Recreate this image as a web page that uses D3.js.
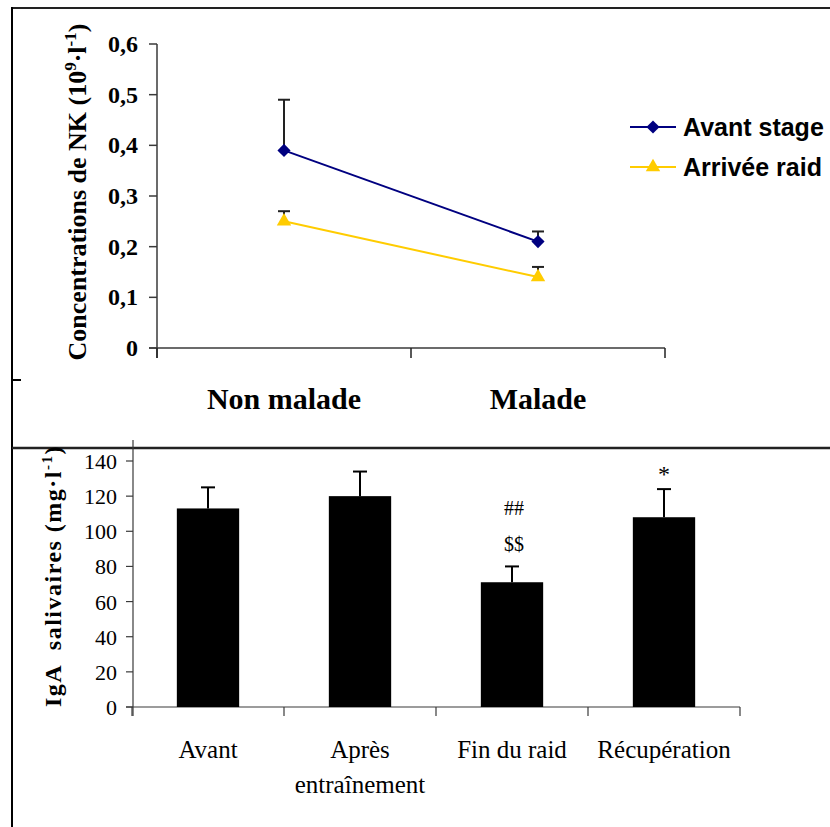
<!DOCTYPE html>
<html>
<head>
<meta charset="utf-8">
<script src="https://cdn.jsdelivr.net/npm/d3@7"></script>
<style>
  body { margin: 0; background: #fff; }
  svg { display: block; }
</style>
</head>
<body>
<div class="graph"></div>
<script>
// données NK (haut)
const nkGroups = ['Non malade', 'Malade']
const nkAvant = [0.39, 0.21]
const nkAvantErr = [0.10, 0.02]
const nkArrivee = [0.25, 0.14]
const nkArriveeErr = [0.02, 0.02]
const nkTicks = ['0', '0,1', '0,2', '0,3', '0,4', '0,5', '0,6']

// données IgA (bas)
const igaGroups = ['Avant', 'Après\nentraînement', 'Fin du raid', 'Récupération']
const igaValues = [113, 120, 71, 108]
const igaErr = [12, 14, 9, 16]
const igaMarks = [[], [], ['##', '$$'], ['*']]
const igaTicks = [0, 20, 40, 60, 80, 100, 120, 140]

const W = 830, H = 827
const serif = '"Liberation Serif", "Times New Roman", serif'
const sans = '"Liberation Sans", Arial, sans-serif'
const axisCol = '#3a3a3a'

const svg = d3.select('.graph').append('svg')
  .attr('width', W).attr('height', H)

// cadres
svg.append('line').attr('x1', 12).attr('x2', W).attr('y1', 8).attr('y2', 8)
  .attr('stroke', '#222').attr('stroke-width', 2)
svg.append('line').attr('x1', 12).attr('x2', 12).attr('y1', 7).attr('y2', H)
  .attr('stroke', '#000').attr('stroke-width', 2)
svg.append('line').attr('x1', 12).attr('x2', W).attr('y1', 448).attr('y2', 448)
  .attr('stroke', '#222').attr('stroke-width', 2.5)
svg.append('line').attr('x1', 12).attr('x2', 21).attr('y1', 380).attr('y2', 380)
  .attr('stroke', '#000').attr('stroke-width', 2)

/* ---------- graphique du haut ---------- */
const y1 = d3.scaleLinear().domain([0, 0.6]).range([348, 44])
const x1 = d3.scaleBand().domain(nkGroups).range([157, 665])

const topG = svg.append('g')

// axe y
topG.append('line').attr('x1', 157).attr('x2', 157).attr('y1', y1(0.6)).attr('y2', 358)
  .attr('stroke', axisCol).attr('stroke-width', 1.5)
topG.selectAll('.ytick').data(nkTicks).enter().append('line')
  .attr('x1', 149).attr('x2', 157)
  .attr('y1', (d, i) => y1(i / 10)).attr('y2', (d, i) => y1(i / 10))
  .attr('stroke', axisCol).attr('stroke-width', 1.5)
topG.selectAll('.ylab').data(nkTicks).enter().append('text')
  .attr('x', 138).attr('y', (d, i) => y1(i / 10) + 8)
  .attr('text-anchor', 'end')
  .style('font', `bold 24px ${serif}`)
  .text(d => d)

// axe x
topG.append('line').attr('x1', 149).attr('x2', 665).attr('y1', y1(0)).attr('y2', y1(0))
  .attr('stroke', axisCol).attr('stroke-width', 1.5)
const bounds1 = [x1.range()[0]].concat(nkGroups.map(g => x1(g) + x1.bandwidth()))
topG.selectAll('.xtick').data(bounds1).enter().append('line')
  .attr('x1', d => d).attr('x2', d => d).attr('y1', y1(0)).attr('y2', 358)
  .attr('stroke', '#222').attr('stroke-width', 1.5)
topG.selectAll('.xlab').data(nkGroups).enter().append('text')
  .attr('x', d => x1(d) + x1.bandwidth() / 2).attr('y', 409)
  .attr('text-anchor', 'middle')
  .style('font', `bold 30px ${serif}`)
  .text(d => d)

// titre axe y
const yt = topG.append('text')
  .attr('transform', 'translate(86,192) rotate(-90)')
  .attr('text-anchor', 'middle')
  .style('font', `bold 26px ${serif}`)
yt.append('tspan').text('Concentrations de NK (10')
yt.append('tspan').attr('dy', -10).style('font-size', '17px').text('9')
yt.append('tspan').attr('dy', 10).text('·l')
yt.append('tspan').attr('dy', -10).style('font-size', '17px').text('-1')
yt.append('tspan').attr('dy', 10).text(')')

const cx1 = d => x1(d) + x1.bandwidth() / 2
const series = [
  { vals: nkAvant, err: nkAvantErr, color: '#000080', sym: d3.symbolDiamond2, size: 110 },
  { vals: nkArrivee, err: nkArriveeErr, color: '#FFCC00', sym: d3.symbolTriangle, size: 90 },
]

series.forEach(s => {
  // barres d'erreur
  nkGroups.forEach((g, i) => {
    const x = cx1(g), yv = y1(s.vals[i]), ye = y1(s.vals[i] + s.err[i])
    topG.append('line').attr('x1', x).attr('x2', x).attr('y1', yv).attr('y2', ye)
      .attr('stroke', '#222').attr('stroke-width', 2)
    topG.append('line').attr('x1', x - 6).attr('x2', x + 6).attr('y1', ye).attr('y2', ye)
      .attr('stroke', '#222').attr('stroke-width', 2)
  })
  topG.append('path')
    .datum(s.vals)
    .attr('d', d3.line().x((d, i) => cx1(nkGroups[i])).y(d => y1(d)))
    .attr('fill', 'none').attr('stroke', s.color).attr('stroke-width', 2)
  topG.selectAll(null).data(s.vals).enter().append('path')
    .attr('transform', (d, i) => `translate(${cx1(nkGroups[i])},${y1(d)})`)
    .attr('d', d3.symbol().type(s.sym).size(s.size))
    .attr('fill', s.color)
})

// légende
const legNames = ['Avant stage', 'Arrivée raid']
legNames.forEach((name, i) => {
  const s = series[i]
  const ly = 127 + i * 40
  const lg = topG.append('g')
  lg.append('line').attr('x1', 630).attr('x2', 676).attr('y1', ly).attr('y2', ly)
    .attr('stroke', s.color).attr('stroke-width', 2)
  lg.append('path').attr('transform', `translate(653,${ly})`)
    .attr('d', d3.symbol().type(s.sym).size(s.size)).attr('fill', s.color)
  lg.append('text').attr('x', 683).attr('y', ly + 9)
    .style('font', `bold 25px ${sans}`).text(name)
})

/* ---------- graphique du bas ---------- */
const y2 = d3.scaleLinear().domain([0, 140]).range([707, 461])
const x2 = d3.scaleBand().domain(igaGroups).range([132, 740]).paddingInner(0.59).paddingOuter(0.295)

const bot = svg.append('g')

bot.append('line').attr('x1', 133).attr('x2', 133).attr('y1', 440).attr('y2', 716)
  .attr('stroke', axisCol).attr('stroke-width', 1.2)
bot.append('line').attr('x1', 126).attr('x2', 740).attr('y1', y2(0)).attr('y2', y2(0))
  .attr('stroke', axisCol).attr('stroke-width', 1.2)
bot.selectAll('.yt').data(igaTicks).enter().append('line')
  .attr('x1', 126).attr('x2', 133).attr('y1', d => y2(d)).attr('y2', d => y2(d))
  .attr('stroke', axisCol).attr('stroke-width', 1.2)
bot.selectAll('.yl').data(igaTicks).enter().append('text')
  .attr('x', 117).attr('y', d => y2(d) + 8)
  .attr('text-anchor', 'end')
  .style('font', `22px ${serif}`)
  .text(d => d)

const step = x2.step()
const bounds2 = d3.range(igaGroups.length + 1).map(i => 132 + i * step)
bot.selectAll('.xt').data(bounds2).enter().append('line')
  .attr('x1', d => d).attr('x2', d => d).attr('y1', y2(0)).attr('y2', 716)
  .attr('stroke', axisCol).attr('stroke-width', 1.2)

bot.selectAll('.bar').data(igaValues).enter().append('rect')
  .attr('x', (d, i) => x2(igaGroups[i]))
  .attr('y', d => y2(d))
  .attr('width', x2.bandwidth())
  .attr('height', d => y2(0) - y2(d))
  .attr('fill', '#000')

igaValues.forEach((v, i) => {
  const x = x2(igaGroups[i]) + x2.bandwidth() / 2
  const ye = y2(v + igaErr[i])
  bot.append('line').attr('x1', x).attr('x2', x).attr('y1', y2(v)).attr('y2', ye)
    .attr('stroke', '#000').attr('stroke-width', 2)
  bot.append('line').attr('x1', x - 7).attr('x2', x + 7).attr('y1', ye).attr('y2', ye)
    .attr('stroke', '#000').attr('stroke-width', 2)
})

// annotations
const markY = { '##': 515, '$$': 551, '*': 482 }
igaMarks.forEach((marks, i) => {
  const x = x2(igaGroups[i]) + x2.bandwidth() / 2
  marks.forEach(m => {
    bot.append('text').attr('x', x + (m === '*' ? 0 : 2)).attr('y', markY[m])
      .attr('text-anchor', 'middle')
      .style('font', `${m === '*' ? 24 : 20}px ${serif}`)
      .text(m)
  })
})

bot.selectAll('.xl').data(igaGroups).enter().append('text')
  .attr('text-anchor', 'middle')
  .style('font', `25px ${serif}`)
  .each(function (d) {
    const x = x2(d) + x2.bandwidth() / 2
    d.split('\n').forEach((line, k) => {
      d3.select(this).append('tspan').attr('x', x).attr('y', 758 + k * 35).text(line)
    })
  })

const yt2 = bot.append('text')
  .attr('transform', 'translate(61,576) rotate(-90)')
  .attr('text-anchor', 'middle')
  .style('font', `bold 24px ${serif}`)
  .style('letter-spacing', '1.5px')
yt2.append('tspan').attr('xml:space', 'preserve').text('IgA  salivaires (mg·l')
yt2.append('tspan').attr('dy', -9).style('font-size', '15px').text('-1')
yt2.append('tspan').attr('dy', 9).text(')')
</script>
</body>
</html>
